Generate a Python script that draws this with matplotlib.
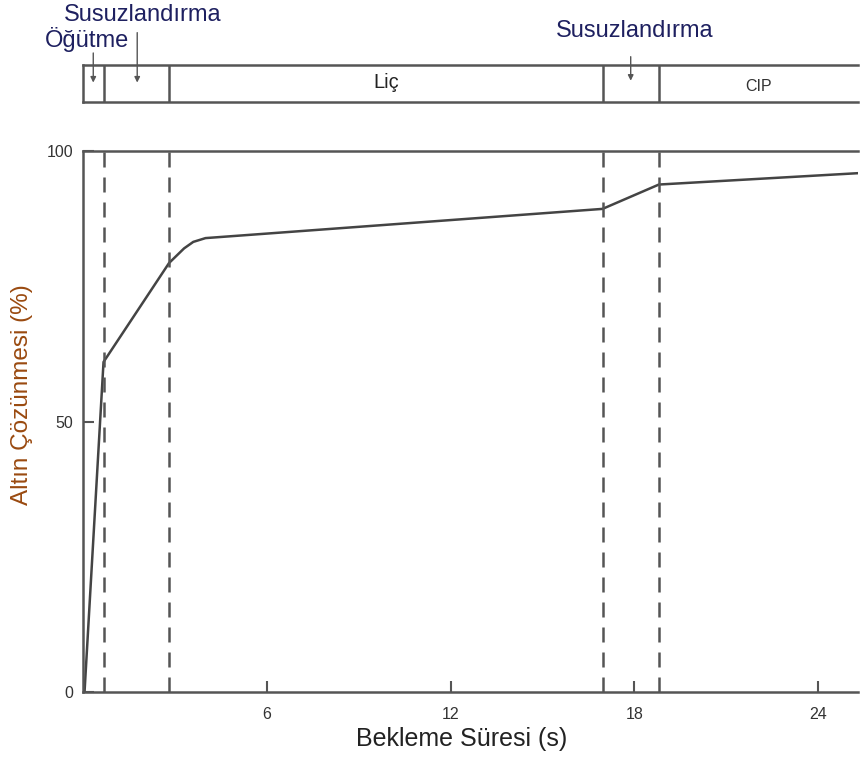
import matplotlib
matplotlib.use("Agg")
import matplotlib.pyplot as plt

plt.rcParams['font.family'] = ['Liberation Sans', 'DejaVu Sans']

# Gold dissolution vs. residence time
time_h = [0.05, 0.67, 2.81, 3.3, 3.6, 4.0, 16.96, 18.8, 25.3]
dissolution = [0.0, 61.0, 79.3, 82.0, 83.2, 83.9, 89.3, 93.8, 95.9]

# Process stage boundaries (hours)
stage_bounds = [0.67, 2.81, 16.96, 18.8]
x_ticks = [6, 12, 18, 24]
y_ticks = [0, 50, 100]

x_max = 25.3
line_c = '#555555'

fig = plt.figure(figsize=(8.61, 7.58), dpi=100)
ax = fig.add_axes([83/861, 66/758, 775/861, 541/758])
band = fig.add_axes([83/861, 656/758, 775/861, 37/758])

ax.plot(time_h, dissolution, color='#444444', lw=1.8, solid_joinstyle='round')
for b in stage_bounds:
    ax.axvline(b, color=line_c, lw=1.8, ls=(0, (6, 4)))

ax.set_xlim(0, x_max)
ax.set_ylim(0, 100)
ax.set_xticks(x_ticks)
ax.set_xticklabels([str(t) for t in x_ticks])
ax.set_yticks(y_ticks)
ax.set_yticklabels([str(t) for t in y_ticks])
ax.tick_params(direction='in', length=8, width=1.5, color=line_c,
               labelsize=11.5, labelcolor='#333333', pad=11)
ax.tick_params(axis='y', pad=7)
for s in ['left', 'bottom', 'top']:
    ax.spines[s].set_color(line_c)
    ax.spines[s].set_linewidth(1.8)
ax.spines['right'].set_visible(False)
ax.set_xlabel('Bekleme Süresi (s)', fontsize=18, color='#222222')
ax.xaxis.set_label_coords(0.488, -0.065)
ax.set_ylabel('Altın Çözünmesi (%)', fontsize=17.5, color='#9A4A10')
ax.yaxis.set_label_coords(-0.064, 0.55)

# Process stage band
band.set_xlim(0, x_max)
band.set_ylim(0, 1)
band.set_xticks([])
band.set_yticks([])
for s in ['left', 'bottom', 'top']:
    band.spines[s].set_color(line_c)
    band.spines[s].set_linewidth(1.8)
band.spines['right'].set_visible(False)
for b in stage_bounds:
    band.axvline(b, color=line_c, lw=1.8)
band.text((stage_bounds[1] + stage_bounds[2]) / 2, 0.52, 'Liç', ha='center',
          va='center', fontsize=14.5, color='#222222')
band.text((stage_bounds[3] + x_max) / 2, 0.43, 'CIP', ha='center',
          va='center', fontsize=11.5, color='#333333')

# Stage annotations with arrows
label_c = '#1E2060'
arrow_kw = dict(arrowstyle='-|>', color=line_c, lw=1.0, mutation_scale=8)
band.annotate('', xy=(stage_bounds[0] / 2, 0.45), xytext=(stage_bounds[0] / 2, 1.4),
              arrowprops=arrow_kw, annotation_clip=False)
band.annotate('', xy=(1.77, 0.45), xytext=(1.77, 1.95),
              arrowprops=arrow_kw, annotation_clip=False)
band.annotate('', xy=((stage_bounds[2] + stage_bounds[3]) / 2, 0.5),
              xytext=((stage_bounds[2] + stage_bounds[3]) / 2, 1.3),
              arrowprops=arrow_kw, annotation_clip=False)
fig.text(64/861, 1 - 15/758, 'Susuzlandırma', fontsize=17, color=label_c,
         ha='left', va='center')
fig.text(45/861, 1 - 40/758, 'Öğütme', fontsize=17, color=label_c,
         ha='left', va='center')
fig.text(635/861, 1 - 31/758, 'Susuzlandırma', fontsize=17, color=label_c,
         ha='center', va='center')

fig.savefig('out.png', dpi=100)
